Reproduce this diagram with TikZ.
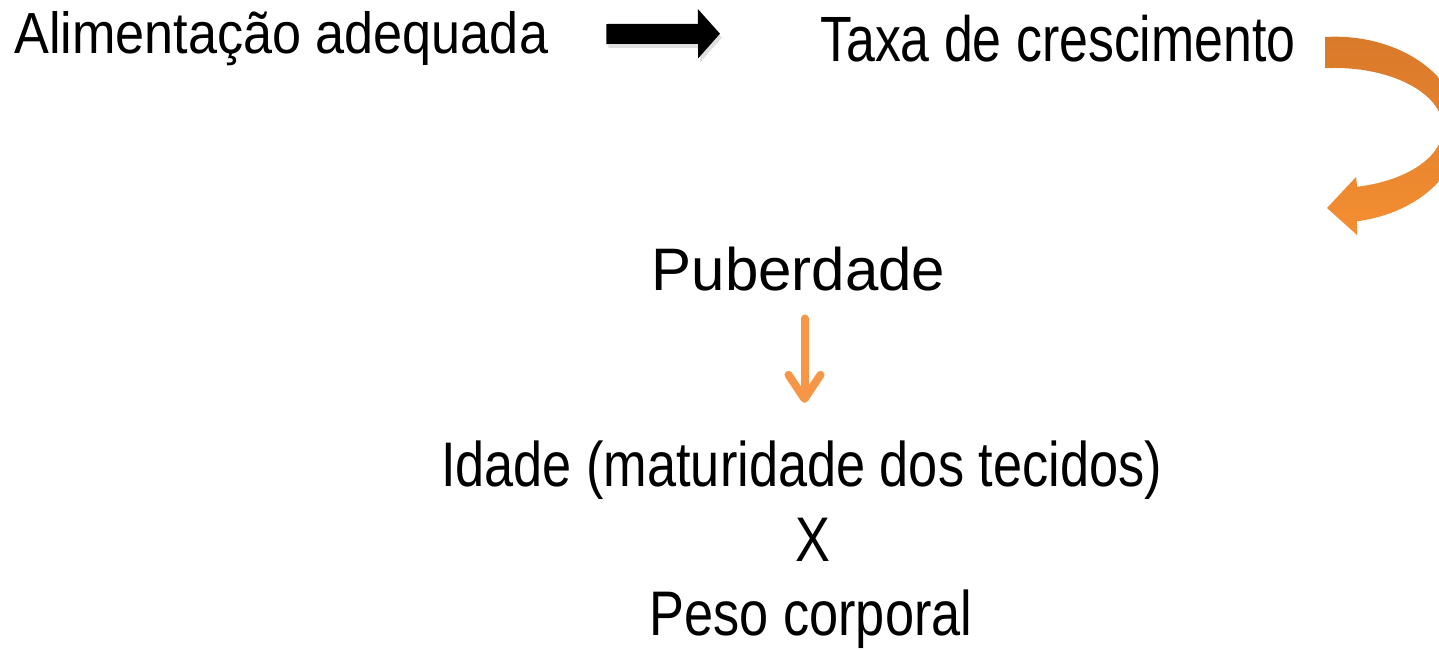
\documentclass[tikz,border=0pt]{standalone}
\usepackage{fontspec}
\setmainfont{Liberation Sans}
\newfontfamily\alimfont[FakeStretch=0.90]{Liberation Sans}
\newfontfamily\taxafont[FakeStretch=0.81]{Liberation Sans}
\newfontfamily\idadefont[FakeStretch=0.83]{Liberation Sans}
\usepackage{tikz}
\usetikzlibrary{arrows.meta, positioning, calc}
\definecolor{lightorange}{RGB}{247,150,70}
\definecolor{darkorange}{RGB}{216,121,42}
\definecolor{midorange}{RGB}{244,142,50}
\tikzstyle{txt} = [inner sep=0pt, anchor=base]
\tikzstyle{blockarrow} = [line width=20pt, -{Triangle[length=22pt,width=48pt]}]
\tikzstyle{downarrow} = [line width=8pt, color=lightorange, line cap=round, -{Straight Barb[length=24pt,width=32pt,round]}]

\begin{document}
\begin{tikzpicture}[x=1pt,y=1pt]
            \clip (0,0) rectangle (1439,-649);
            \node[txt, anchor=base west, font=\alimfont\fontsize{58}{70}\selectfont] (alim) at (14,-53) {Alimentação adequada};
            \node[txt, anchor=base west, font=\taxafont\fontsize{64}{76}\selectfont] (taxa) at (820,-61.7) {Taxa de crescimento};
            \node[txt, font=\fontsize{60}{72}\selectfont] (pub) at (798.5,-290.7) {Puberdade};
            \node[txt, font=\idadefont\fontsize{63}{75}\selectfont] (idade) at (801.5,-486.7) {Idade (maturidade dos tecidos)};
            \node[txt, font=\idadefont\fontsize{63}{75}\selectfont] (vs) at (813,-561.7) {X};
            \node[txt, font=\idadefont\fontsize{63}{75}\selectfont] (peso) at (811,-635) {Peso corporal};
            % black arrow between the two first texts
            \draw[blockarrow, black!12] ([shift={(60pt,15pt)}]alim.base east) -- ([shift={(-98pt,24pt)}]taxa.base west);
            \draw[blockarrow] ([shift={(58pt,19pt)}]alim.base east) -- ([shift={(-100pt,28pt)}]taxa.base west);
            % curved orange arrow
            \shade[top color=darkorange, bottom color=midorange]
                (1325,-37) arc[start angle=94.6, end angle=-80, x radius=125pt, y radius=93pt]
                -- (1357,-235) -- (1327,-208) -- (1356,-177) -- (1357.1,-186.7)
                arc[start angle=-78.2, end angle=95.3, x radius=108pt, y radius=60pt] -- cycle;
            \draw[downarrow] ([shift={(6pt,-27pt)}]pub.south) -- ([shift={(3pt,38pt)}]idade.north);
        \end{tikzpicture}
\end{document}
